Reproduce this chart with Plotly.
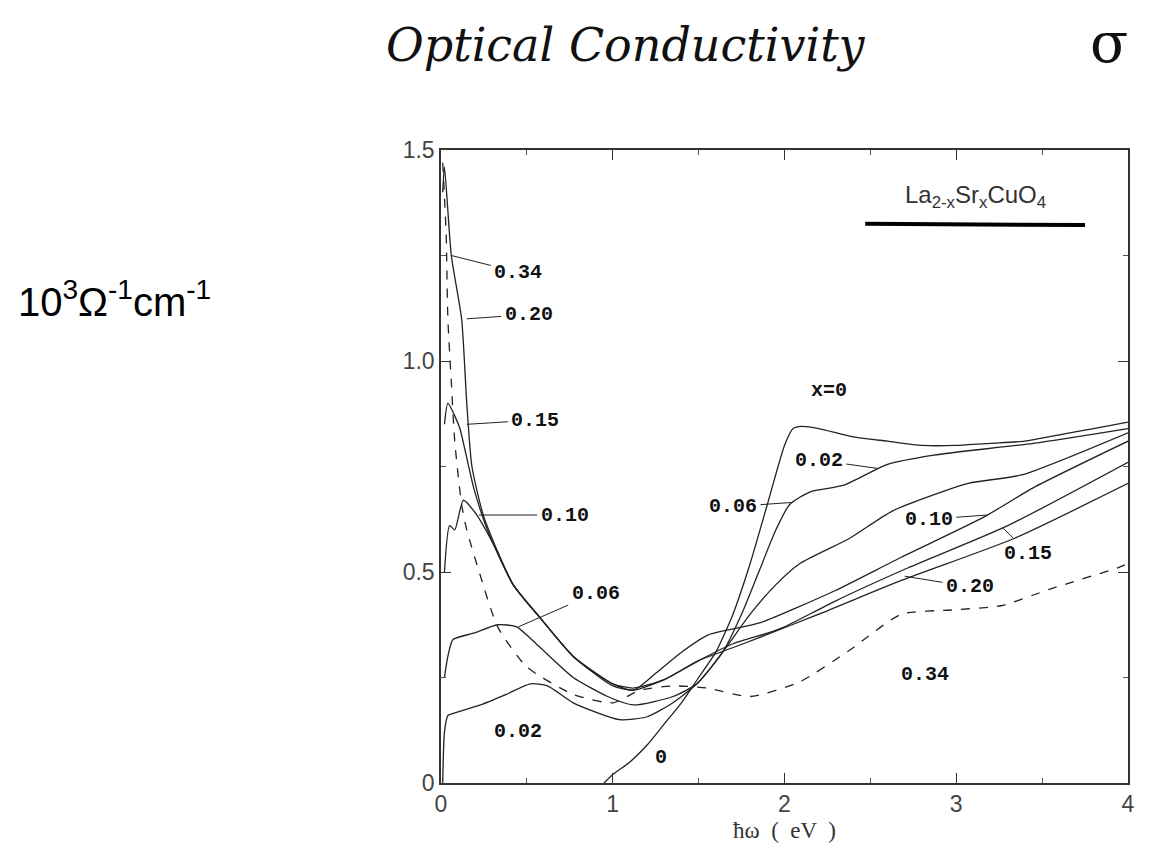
import plotly.graph_objects as go

# ---- data ----
x_x0 = [0.95, 1.0, 1.1, 1.2, 1.3, 1.4, 1.5, 1.6, 1.7, 1.8, 1.9, 2.0, 2.05, 2.1, 2.2, 2.4, 2.6, 2.8, 3.0, 3.2, 3.4, 3.6, 3.8, 4.0]
y_x0 = [0.0, 0.02, 0.05, 0.09, 0.14, 0.19, 0.25, 0.31, 0.40, 0.52, 0.66, 0.80, 0.84, 0.845, 0.84, 0.82, 0.81, 0.80, 0.80, 0.805, 0.81, 0.825, 0.84, 0.855]

x_002 = [0.01, 0.02, 0.04, 0.07, 0.23, 0.38, 0.52, 0.62, 0.77, 1.04, 1.2, 1.35, 1.49, 1.64, 1.75, 1.85, 1.95, 2.03, 2.15, 2.34, 2.6, 2.87, 3.45, 4.0]
y_002 = [0.0, 0.12, 0.16, 0.165, 0.185, 0.21, 0.235, 0.23, 0.19, 0.15, 0.157, 0.19, 0.235, 0.31, 0.40, 0.50, 0.60, 0.66, 0.69, 0.705, 0.755, 0.777, 0.805, 0.84]

x_006 = [0.02, 0.04, 0.07, 0.19, 0.33, 0.44, 0.58, 0.77, 0.97, 1.12, 1.35, 1.49, 1.64, 1.8, 1.95, 2.09, 2.38, 2.63, 3.07, 3.38, 4.0]
y_006 = [0.25, 0.30, 0.34, 0.355, 0.375, 0.37, 0.32, 0.25, 0.205, 0.185, 0.205, 0.235, 0.31, 0.40, 0.47, 0.52, 0.58, 0.645, 0.71, 0.73, 0.83]

x_010 = [0.02, 0.05, 0.08, 0.13, 0.2, 0.3, 0.42, 0.58, 0.77, 1.0, 1.12, 1.25, 1.4, 1.55, 1.7, 1.86, 2.29, 2.68, 3.16, 3.45, 4.0]
y_010 = [0.50, 0.61, 0.60, 0.67, 0.64, 0.57, 0.47, 0.39, 0.30, 0.235, 0.22, 0.26, 0.31, 0.35, 0.365, 0.38, 0.455, 0.535, 0.63, 0.70, 0.81]

x_015 = [0.02, 0.04, 0.08, 0.11, 0.19, 0.27, 0.42, 0.58, 0.77, 1.0, 1.12, 1.3, 1.5, 1.7, 1.9, 2.0, 2.29, 2.72, 3.3, 4.0]
y_015 = [0.85, 0.90, 0.87, 0.84, 0.70, 0.60, 0.47, 0.39, 0.30, 0.235, 0.225, 0.245, 0.29, 0.33, 0.355, 0.37, 0.43, 0.51, 0.61, 0.76]

x_020 = [0.01, 0.02, 0.06, 0.12, 0.15, 0.18, 0.25, 0.42, 0.58, 0.77, 1.0, 1.12, 1.3, 1.5, 1.76, 2.2, 2.68, 3.34, 4.0]
y_020 = [1.40, 1.46, 1.25, 1.10, 0.90, 0.75, 0.63, 0.47, 0.39, 0.30, 0.23, 0.22, 0.245, 0.29, 0.33, 0.40, 0.48, 0.58, 0.71]

x_034 = [0.01, 0.03, 0.04, 0.06, 0.08, 0.12, 0.15, 0.23, 0.33, 0.5, 0.77, 1.0, 1.16, 1.35, 1.55, 1.8, 2.09, 2.38, 2.68, 2.97, 3.26, 3.55, 3.94, 4.0]
y_034 = [1.47, 1.30, 1.10, 0.95, 0.81, 0.66, 0.60, 0.49, 0.37, 0.275, 0.21, 0.19, 0.22, 0.23, 0.225, 0.205, 0.24, 0.315, 0.40, 0.41, 0.42, 0.46, 0.51, 0.52]

x_ticks = [0, 1, 2, 3, 4]
x_tick_labels = ["0", "1", "2", "3", "4"]
y_ticks = [0, 0.5, 1.0, 1.5]
y_tick_labels = ["0", "0.5", "1.0", "1.5"]

series = [
    ("x=0", x_x0, y_x0, "solid"),
    ("0.02", x_002, y_002, "solid"),
    ("0.06", x_006, y_006, "solid"),
    ("0.10", x_010, y_010, "solid"),
    ("0.15", x_015, y_015, "solid"),
    ("0.20", x_020, y_020, "solid"),
    ("0.34", x_034, y_034, "dash"),
]

fig = go.Figure()
for name, xs, ys, dash in series:
    fig.add_trace(go.Scatter(
        x=xs, y=ys, mode="lines", name=name,
        line=dict(color="#222222", width=1.3, dash=dash, shape="spline", smoothing=0.6),
        showlegend=False, hoverinfo="skip"))

lab_font = dict(family="Liberation Mono", size=20, color="#111111")

# labels with leader lines: (text, text_x, text_y, point_x, point_y)
leaders = [
    ("<b>0.34</b>", 0.45, 1.21, 0.06, 1.25),
    ("<b>0.20</b>", 0.51, 1.11, 0.15, 1.10),
    ("<b>0.15</b>", 0.55, 0.86, 0.15, 0.85),
    ("<b>0.10</b>", 0.72, 0.635, 0.22, 0.635),
    ("<b>0.06</b>", 0.90, 0.45, 0.45, 0.37),
    ("<b>0.02</b>", 2.20, 0.765, 2.55, 0.745),
    ("<b>0.06</b>", 1.70, 0.655, 2.05, 0.665),
    ("<b>0.10</b>", 2.84, 0.625, 3.18, 0.635),
    ("<b>0.15</b>", 3.42, 0.545, 3.27, 0.605),
    ("<b>0.20</b>", 3.08, 0.465, 2.70, 0.49),
]
for txt, tx, ty, px, py in leaders:
    fig.add_annotation(x=px, y=py, ax=tx, ay=ty, axref="x", ayref="y",
                       text=txt, showarrow=True, arrowhead=0, arrowwidth=1,
                       arrowcolor="#222222", font=lab_font, standoff=0, startstandoff=2)

plain = [
    ("<b>0.02</b>", 0.45, 0.123),
    ("<b>0</b>", 1.28, 0.06),
    ("<b>x=0</b>", 2.26, 0.93),
    ("<b>0.34</b>", 2.82, 0.256),
]
for txt, tx, ty in plain:
    fig.add_annotation(x=tx, y=ty, text=txt, showarrow=False, font=lab_font)

fig.add_annotation(x=3.11, y=1.39, text="La<sub>2-x</sub>Sr<sub>x</sub>CuO<sub>4</sub>",
                   showarrow=False, font=dict(family="Liberation Sans", size=24, color="#333333"))
fig.add_shape(type="line", x0=2.47, x1=3.75, y0=1.325, y1=1.322,
              line=dict(color="#000000", width=4), xref="x", yref="y")

fig.add_annotation(xref="paper", yref="paper", x=0.27, y=1.166, xanchor="center", yanchor="middle",
                   text="Optical Conductivity", showarrow=False,
                   font=dict(family="DejaVu Serif", size=46, color="#111111", style="italic"))
fig.add_annotation(xref="paper", yref="paper", x=0.972, y=1.17, xanchor="center", yanchor="middle",
                   text="σ", showarrow=False,
                   font=dict(family="DejaVu Serif", size=56, color="#111111"))

fig.add_annotation(xref="paper", yref="paper", x=-0.618, y=0.765, xanchor="left", yanchor="middle",
                   text="10<sup>3</sup>Ω<sup>-1</sup>cm<sup>-1</sup>", showarrow=False,
                   font=dict(family="Liberation Sans", size=40, color="#000000"))

axis_common = dict(showgrid=False, zeroline=False, showline=True, linecolor="#333333",
                   linewidth=1.5, mirror="ticks", ticks="inside", ticklen=10,
                   tickcolor="#333333", tickfont=dict(family="Liberation Sans", size=23, color="#444444"))

fig.update_xaxes(range=[0, 4], tickvals=x_ticks, ticktext=x_tick_labels,
                 title=dict(text="ħω  (  eV  )", font=dict(family="Liberation Serif", size=23, color="#333333"), standoff=6),
                 minor=dict(ticks="inside", ticklen=5, dtick=0.5, tickcolor="#555555"),
                 **axis_common)
fig.update_yaxes(range=[0, 1.5], tickvals=y_ticks, ticktext=y_tick_labels,
                 minor=dict(ticks="inside", ticklen=5, dtick=0.25, tickcolor="#555555"),
                 **axis_common)

fig.update_layout(width=1169, height=864, margin=dict(l=441, r=41, t=150, b=81),
                  paper_bgcolor="white", plot_bgcolor="white")

fig.write_html("out.html")
